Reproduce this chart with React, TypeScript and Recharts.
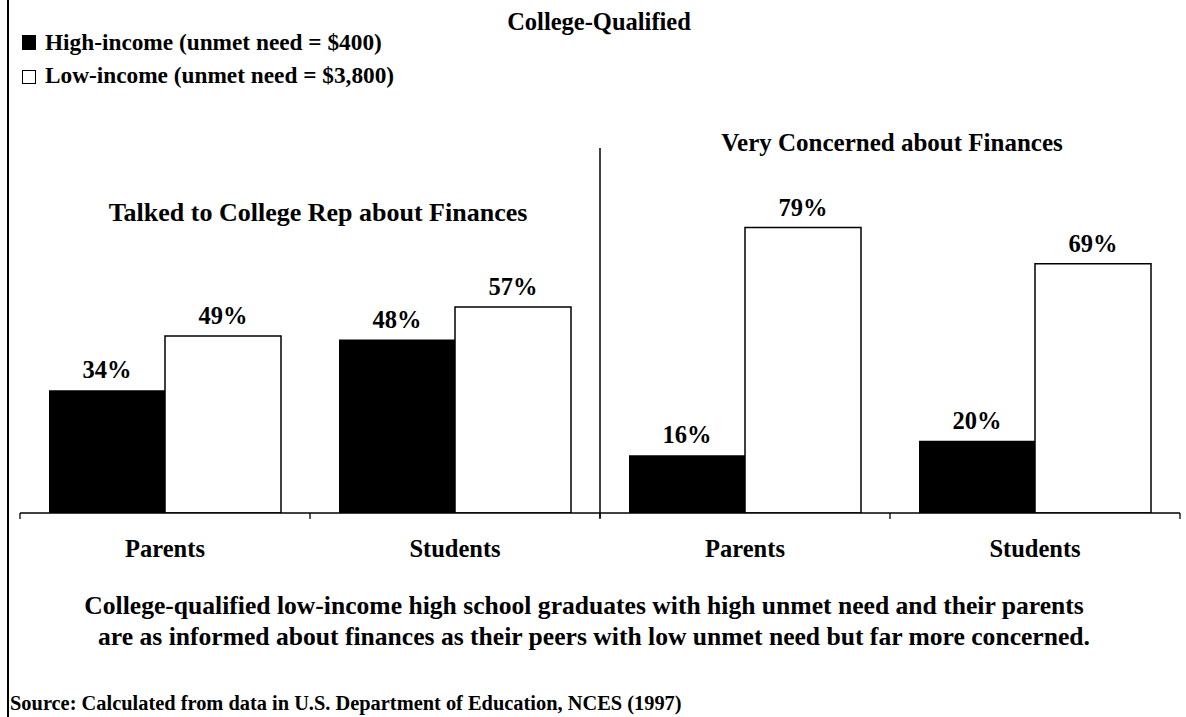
import React from 'react';
import { BarChart, Bar, XAxis, YAxis, LabelList, ReferenceLine } from 'recharts';

const groups = ['Parents', 'Students', 'Parents', 'Students'];
const highIncome = [34, 48, 16, 20];
const lowIncome = [49, 57, 79, 69];
const seriesNames = ['High-income (unmet need = $400)', 'Low-income (unmet need = $3,800)'];
const panelTitles = ['Talked to College Rep about Finances', 'Very Concerned about Finances'];
const chartTitle = 'College-Qualified';
const captionLines = [
  'College-qualified low-income high school graduates with high unmet need and their parents',
  'are as informed about finances as their peers with low unmet need but far more concerned.',
];
const sourceText = 'Source: Calculated from data in U.S. Department of Education, NCES (1997)';
const boundaryTicks = [0, 1, 2, 3, 4];

const data = groups.map((g, i) => ({ idx: i, pos: i + 0.5, group: g, high: highIncome[i], low: lowIncome[i] }));

const FONT = '"Liberation Serif", "Times New Roman", serif';

const textStyle = (x: number, y: number, size: number, align: 'center' | 'left'): React.CSSProperties => ({
  position: 'absolute',
  left: align === 'center' ? x - 600 : x,
  width: align === 'center' ? 1200 : undefined,
  top: y - size * 0.6,
  lineHeight: `${size * 1.2}px`,
  fontSize: size,
  fontWeight: 'bold',
  fontFamily: FONT,
  textAlign: align,
  whiteSpace: 'nowrap',
  color: '#000',
});

export default function App() {
  return (
    <div style={{ position: 'absolute', left: 0, top: 0, width: 1186, height: 717, background: '#fff', overflow: 'hidden' }}>
      <div style={{ position: 'absolute', left: 7, top: 0, width: 1.5, height: 717, background: '#000' }} />
      <BarChart
        width={1186}
        height={717}
        data={data}
        margin={{ top: 148, right: 6, left: 20, bottom: 159 }}
        barCategoryGap="10%"
        barGap={0}
      >
        <XAxis
          xAxisId="a_ticks"
          dataKey="pos"
          type="number"
          domain={[0, 4]}
          ticks={boundaryTicks}
          allowDataOverflow
          tickFormatter={() => ''}
          tick={{ fontSize: 1, fill: 'none' }}
          tickSize={6}
          tickLine={{ stroke: '#000', strokeWidth: 1.3 }}
          axisLine={{ stroke: '#000', strokeWidth: 1.5 }}
          interval={0}
          height={1}
        />
        <XAxis
          xAxisId="b_cat"
          dataKey="idx"
          type="category"
          tickFormatter={(i: number) => groups[i]}
          axisLine={false}
          tickLine={false}
          tickMargin={20}
          height={44}
          tick={{ fill: '#000', fontSize: 24.5, fontWeight: 'bold', fontFamily: FONT }}
          interval={0}
        />
        <YAxis hide domain={[0, 101]} allowDataOverflow />
        <ReferenceLine
          xAxisId="a_ticks"
          segment={[{ x: 2, y: -1.4 }, { x: 2, y: 101 }]}
          stroke="#000"
          strokeWidth={1.5}
          ifOverflow="visible"
        />
        <Bar xAxisId="b_cat" dataKey="high" name={seriesNames[0]} fill="#000" isAnimationActive={false}>
          <LabelList
            dataKey="high"
            position="top"
            offset={12}
            formatter={(v: number) => `${v}%`}
            fill="#000"
            fontSize={24.5}
            fontWeight="bold"
            fontFamily={FONT}
          />
        </Bar>
        <Bar xAxisId="b_cat" dataKey="low" name={seriesNames[1]} fill="#fff" stroke="#000" strokeWidth={1.5} isAnimationActive={false}>
          <LabelList
            dataKey="low"
            position="top"
            offset={12}
            formatter={(v: number) => `${v}%`}
            fill="#000"
            fontSize={24.5}
            fontWeight="bold"
            fontFamily={FONT}
          />
        </Bar>
      </BarChart>
      <div style={{ position: 'absolute', left: 22, top: 35, width: 14, height: 15, background: '#000' }} />
      <div style={{ position: 'absolute', left: 22, top: 70, width: 14, height: 14, background: '#fff', border: '1.2px solid #000', boxSizing: 'border-box' }} />
      <div style={textStyle(45, 43, 23.3, 'left')}>{seriesNames[0]}</div>
      <div style={textStyle(45, 76, 23.3, 'left')}>{seriesNames[1]}</div>
      <div style={textStyle(599, 22, 24.5, 'center')}>{chartTitle}</div>
      <div style={textStyle(318, 213, 26, 'center')}>{panelTitles[0]}</div>
      <div style={textStyle(892, 143, 25, 'center')}>{panelTitles[1]}</div>
      <div style={textStyle(584, 606, 25.6, 'center')}>{captionLines[0]}</div>
      <div style={textStyle(594, 637, 25.6, 'center')}>{captionLines[1]}</div>
      <div style={textStyle(10, 703, 20.4, 'left')}>{sourceText}</div>
    </div>
  );
}
